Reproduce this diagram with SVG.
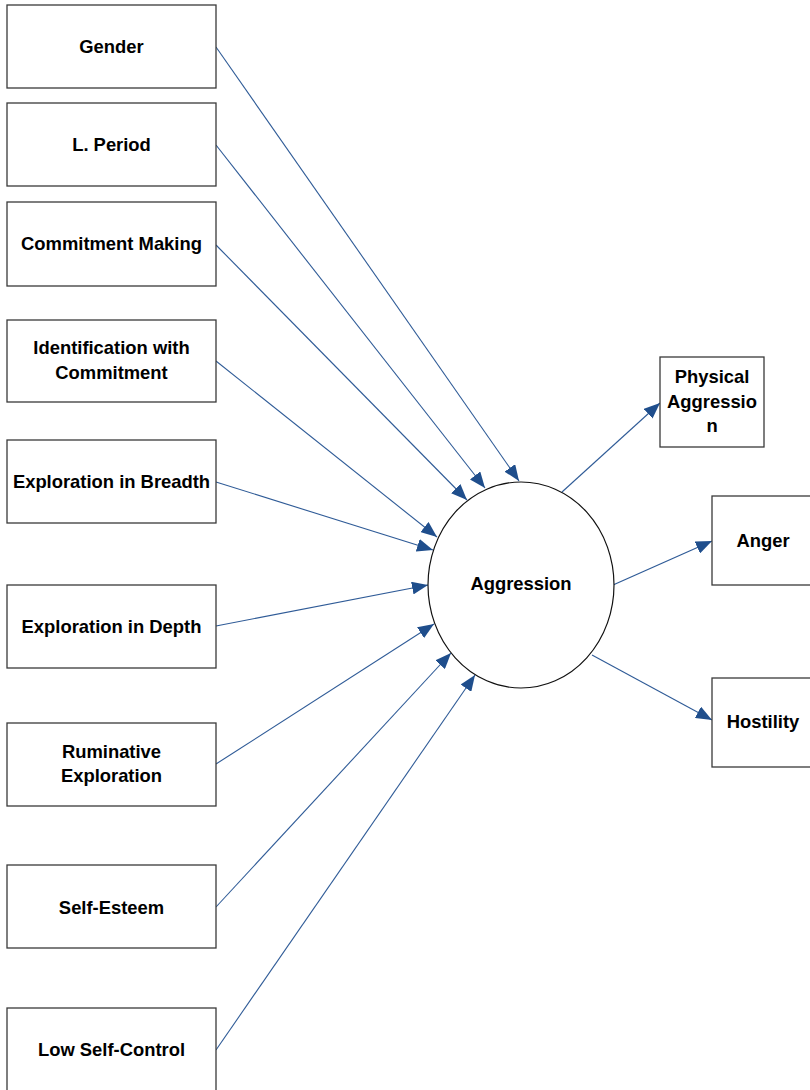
<svg xmlns="http://www.w3.org/2000/svg" width="810" height="1090" viewBox="0 0 810 1090">
<style>
.box{fill:#fff;stroke:#3a3a3a;stroke-width:1.3}
.lbl{font-family:"Liberation Sans",Arial,sans-serif;font-weight:bold;font-size:18.4px;fill:#000;text-anchor:middle}
.con{stroke:#2f5b97;stroke-width:1.1;fill:none;marker-end:url(#ah)}
</style>
<defs>
<marker id="ah" markerUnits="userSpaceOnUse" markerWidth="17" markerHeight="13" refX="16" refY="6.5" orient="auto">
<path d="M0,0 L16,6.5 L0,13 Z" fill="#1f4e8c"/>
</marker>
</defs>
<rect width="810" height="1090" fill="#fff"/>
<g id="connectors">
<line class="con" x1="216" y1="47" x2="519" y2="481"/>
<line class="con" x1="216" y1="145" x2="485" y2="488"/>
<line class="con" x1="216" y1="245" x2="467" y2="500"/>
<line class="con" x1="216" y1="361" x2="437" y2="537"/>
<line class="con" x1="216" y1="482" x2="433" y2="550"/>
<line class="con" x1="216" y1="626" x2="428" y2="585"/>
<line class="con" x1="216" y1="764" x2="434" y2="624"/>
<line class="con" x1="216" y1="907" x2="451" y2="653"/>
<line class="con" x1="216" y1="1050" x2="475" y2="675"/>
<line class="con" x1="562" y1="492" x2="660" y2="403"/>
<line class="con" x1="613" y1="585" x2="712" y2="541"/>
<line class="con" x1="592" y1="655" x2="712" y2="720"/>
</g>
<g id="gender"><rect class="box" x="7" y="5" width="209" height="83"/><text class="lbl" x="111.5" y="53">Gender</text></g>
<g id="lperiod"><rect class="box" x="7" y="103" width="209" height="83"/><text class="lbl" x="111.5" y="151">L. Period</text></g>
<g id="commitment-making"><rect class="box" x="7" y="202" width="209" height="84"/><text class="lbl" x="111.5" y="250">Commitment Making</text></g>
<g id="identification"><rect class="box" x="7" y="320" width="209" height="82"/><text class="lbl" x="111.5" y="354">Identification with</text><text class="lbl" x="111.5" y="379">Commitment</text></g>
<g id="exploration-breadth"><rect class="box" x="7" y="440" width="209" height="83"/><text class="lbl" x="111.5" y="488">Exploration in Breadth</text></g>
<g id="exploration-depth"><rect class="box" x="7" y="585" width="209" height="83"/><text class="lbl" x="111.5" y="633">Exploration in Depth</text></g>
<g id="ruminative"><rect class="box" x="7" y="723" width="209" height="83"/><text class="lbl" x="111.5" y="758">Ruminative</text><text class="lbl" x="111.5" y="782">Exploration</text></g>
<g id="self-esteem"><rect class="box" x="7" y="865" width="209" height="83"/><text class="lbl" x="111.5" y="914">Self-Esteem</text></g>
<g id="low-self-control"><rect class="box" x="7" y="1008" width="209" height="84"/><text class="lbl" x="111.5" y="1056">Low Self-Control</text></g>
<g id="aggression"><ellipse cx="521" cy="585" rx="93" ry="103" fill="#fff" stroke="#111" stroke-width="1.2"/><text class="lbl" x="521" y="590">Aggression</text></g>
<g id="physical-aggression"><rect class="box" x="660" y="357" width="104" height="90"/><text class="lbl" x="712" y="383">Physical</text><text class="lbl" x="712" y="408">Aggressio</text><text class="lbl" x="712" y="432">n</text></g>
<g id="anger"><rect class="box" x="712" y="496" width="100" height="89"/><text class="lbl" x="763" y="547">Anger</text></g>
<g id="hostility"><rect class="box" x="712" y="678" width="100" height="89"/><text class="lbl" x="763" y="728">Hostility</text></g>
</svg>
